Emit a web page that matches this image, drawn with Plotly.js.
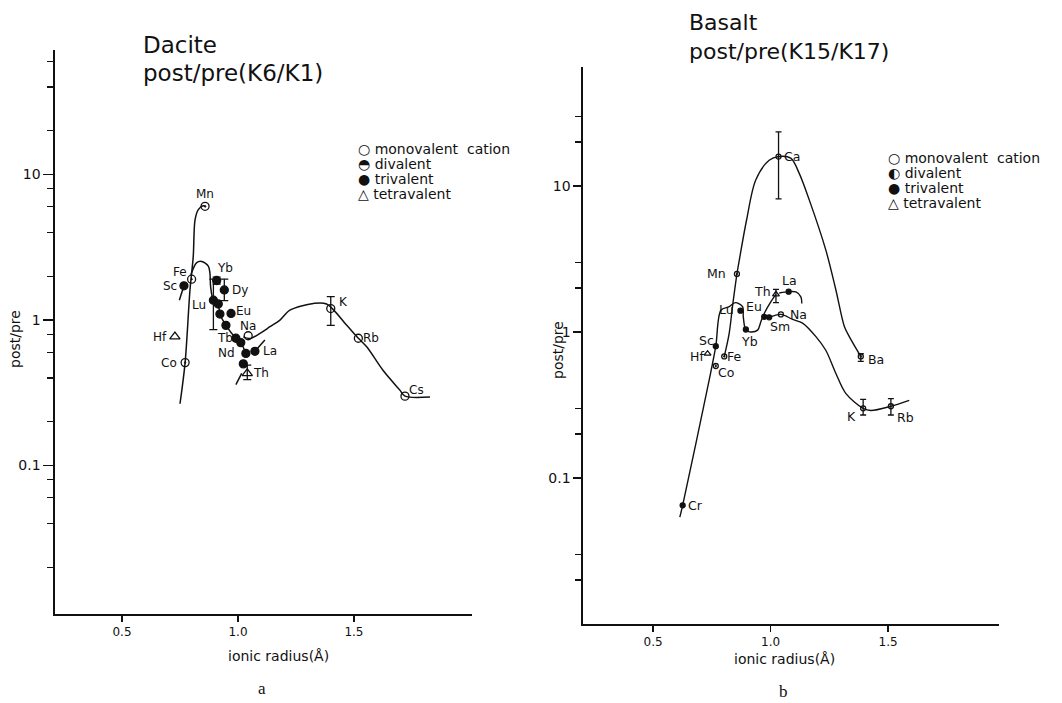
<!DOCTYPE html>
<html><head><meta charset="utf-8">
<script src="https://cdn.plot.ly/plotly-3.0.1.min.js"></script>
<style>html,body{margin:0;padding:0;background:#fff}#chart{width:1062px;height:703px}</style>
</head><body><div id="chart"></div>
<script>
// ================= DATA =================
// Panel a: Dacite post/pre (K6/K1)
const aMonoEl = ['Na','K','Rb','Cs'];
const aMonoX  = [1.044,1.40,1.519,1.72];
const aMonoY  = [0.78,1.20,0.75,0.30];
const aMonoUp = [NaN,0.25,NaN,NaN];
const aMonoDn = [NaN,0.28,NaN,NaN];

const aDiEl = ['Mn','Fe','Co'];
const aDiX  = [0.858,0.800,0.772];
const aDiY  = [6.05,1.91,0.51];

const aTriEl = ['Sc','Yb','Dy','Lu','','','Eu','','Tb','','Nd','La',''];
const aTriX  = [0.767,0.908,0.941,0.894,0.915,0.922,0.970,0.948,0.991,1.012,1.034,1.073,1.023];
const aTriY  = [1.72,1.87,1.61,1.37,1.29,1.10,1.11,0.92,0.75,0.70,0.59,0.61,0.50];
const aTriUp = [NaN,0.10,0.30,0.54,NaN,NaN,NaN,NaN,NaN,NaN,NaN,NaN,NaN];
const aTriDn = [NaN,0.10,0.25,0.51,NaN,NaN,NaN,NaN,NaN,NaN,NaN,NaN,NaN];

const aTetEl = ['Hf','Th'];
const aTetX  = [0.728,1.040];
const aTetY  = [0.77,0.43];
const aTetUp = [NaN,0.06];
const aTetDn = [NaN,0.04];

// hand-drawn trend curves, panel a
const aCurve1X = [0.750,0.772,0.793,0.807,0.815,0.829,0.850,0.862];
const aCurve1Y = [0.266,0.51,1.61,2.73,4.9,5.74,6.1,6.0];
const aCurve2X = [0.797,0.822,0.843,0.872,0.879,0.882,0.894,0.915,0.922,0.948,0.991,1.012,1.034];
const aCurve2Y = [2.05,2.48,2.53,2.35,2.1,1.7,1.37,1.29,1.10,0.92,0.75,0.70,0.59];
const aCurve3X = [1.023,1.052,1.095,1.138,1.181,1.224,1.325,1.382,1.469,1.519,1.555,1.626,1.698,1.72,1.828];
const aCurve3Y = [0.767,0.748,0.81,0.90,1.0,1.17,1.30,1.29,0.92,0.75,0.655,0.45,0.33,0.30,0.296];
const aScTailX = [0.767,0.747], aScTailY = [1.72,1.37];
const aLaTailX = [1.073,1.116], aLaTailY = [0.61,0.73];
const aThTailX = [0.991,1.016], aThTailY = [0.36,0.43];

// Panel b: Basalt post/pre (K15/K17)
const bMonoEl = ['Na','K','Rb'];
const bMonoX  = [1.044,1.394,1.512];
const bMonoY  = [1.32,0.30,0.31];
const bMonoUp = [NaN,0.046,0.04];
const bMonoDn = [NaN,0.03,0.04];

const bDiEl = ['Mn','Ca','Fe','Co','Ba'];
const bDiX  = [0.857,1.034,0.803,0.767,1.384];
const bDiY  = [2.50,15.9,0.68,0.585,0.68];
const bDiUp = [NaN,7.6,NaN,NaN,0.03];
const bDiDn = [NaN,7.75,NaN,NaN,0.05];

const bTriEl = ['Cr','Sc','Lu','Yb','Eu','Sm','La'];
const bTriX  = [0.626,0.767,0.872,0.895,0.973,0.994,1.077];
const bTriY  = [0.065,0.80,1.40,1.04,1.27,1.26,1.89];

const bTetEl = ['Hf','Th'];
const bTetX  = [0.732,1.023];
const bTetY  = [0.71,1.81];
const bTetUp = [NaN,0.15];
const bTetDn = [NaN,0.22];

const bCurveAX = [0.614,0.626,0.739,0.767,0.789,0.824,0.850,0.881,0.884,0.895,0.916,0.945,0.959,0.973,1.001,1.023];
const bCurveAY = [0.054,0.065,0.47,0.80,1.41,1.49,1.59,1.49,1.27,1.03,1.0,1.03,1.18,1.34,1.61,1.81];
const bCurveBX = [0.803,0.824,0.838,0.857,0.867,0.898,0.937,0.994,1.034,1.086,1.122,1.165,1.235,1.278,1.314,1.335,1.384];
const bCurveBY = [0.68,0.98,1.49,2.50,3.11,5.85,11.0,15.0,15.9,15.5,12.2,8.0,3.65,1.94,1.09,0.93,0.68];
const bCurveCX = [0.994,1.044,1.094,1.136,1.193,1.235,1.278,1.320,1.394,1.427,1.512,1.590];
const bCurveCY = [1.26,1.32,1.22,1.15,0.93,0.75,0.52,0.38,0.30,0.29,0.31,0.34];
const bCurveDX = [1.037,1.077,1.108,1.129,1.133];
const bCurveDY = [1.85,1.89,1.88,1.74,1.57];

// axes / text
const xTickVals = [0.5,1.0,1.5];
const xTickText = ['0.5','1.0','1.5'];
const yTickVals = [0.1,1,10];
const yTickText = ['0.1','1','10'];
const yMinorA = [0.02,0.04,0.06,0.08,0.2,0.4,0.6,0.8,2,4,6,8,20,40,60];
const yMinorB = [0.02,0.03,0.2,0.3,2,3,20,30];
const legendLabels = ['monovalent  cation','divalent','trivalent','tetravalent'];
const legendSymA = ['○','◓','●','△'];
const legendSymB = ['○','◐','●','△'];

// ================= STYLE =================
const W = 1062, H = 703;
const INK = '#111';
const FONT = 'DejaVu Sans, Liberation Sans, sans-serif';
const px = v => v / W, py = v => 1 - v / H;

const aMonoShift = [[0,10],[13,7],[13,0],[12,6]];
const aDiShift   = [[0,12],[-12,7],[-16,0]];
const aTriShift  = [[-14,0],[8,13],[16,0],[-14,-5],[0,0],[0,0],[12,2],[0,0],[-11,0],[0,0],[-19,0],[15,0],[0,0]];
const aTetShift  = [[-15,0],[14,0]];
const bMonoShift = [[18,0],[-12,-8],[15,-11]];
const bDiShift   = [[-20,0],[13,0],[10,0],[10,-7],[15,-3]];
const bTriShift  = [[13,0],[-9,6],[-14,1],[4,-12],[-10,10],[11,-9],[1,11]];
const bTetShift  = [[-11,-3],[-13,3]];

function pts(xs, ys, up, dn, sym, size, fill, xa, ya, capw){
  const t = {type:'scatter', mode:'markers', x:xs, y:ys, xaxis:xa, yaxis:ya,
    showlegend:false, hoverinfo:'skip', cliponaxis:false,
    marker:{symbol:sym, size:size, color:fill, line:{color:INK, width:1.3}}};
  if (up) t.error_y = {type:'data', symmetric:false, array:up, arrayminus:dn,
    color:INK, thickness:1.3, width:capw, visible:true};
  return t;
}
function curve(xs, ys, xa, ya, w){
  return {type:'scatter', mode:'lines', x:xs, y:ys, xaxis:xa, yaxis:ya,
    showlegend:false, hoverinfo:'skip',
    line:{color:INK, width:w||1.5, shape:'spline', smoothing:0.9}};
}
function labels(els, xs, ys, shifts, xr, yr, fs){
  const out = [];
  els.forEach((e,i) => { if (!e) return;
    out.push({xref:xr, yref:yr, x:xs[i], y:Math.log10(ys[i]), text:e, showarrow:false, borderpad:0,
      xshift:shifts[i][0], yshift:shifts[i][1], font:{family:FONT, size:fs, color:INK}});
  });
  return out;
}
function txt(x, y, t, size, opts){
  return Object.assign({xref:'paper', yref:'paper', x:px(x), y:py(y), text:t, showarrow:false, borderpad:0,
    xanchor:'center', yanchor:'middle', font:{family:FONT, size:size, color:INK}}, opts||{});
}
function legendAnns(x0, y0, syms, size){
  return legendLabels.map((l,i) => txt(x0, y0 + i*15, syms[i] + ' ' + l, size, {xanchor:'left'}));
}

const traces = [
  curve(aCurve1X, aCurve1Y, 'x', 'y'),
  curve(aCurve2X, aCurve2Y, 'x', 'y'),
  curve(aCurve3X, aCurve3Y, 'x', 'y'),
  curve(aScTailX, aScTailY, 'x', 'y'),
  curve(aLaTailX, aLaTailY, 'x', 'y'),
  curve(aThTailX, aThTailY, 'x', 'y'),
  pts(aMonoX, aMonoY, aMonoUp, aMonoDn, 'circle-open', 8, INK, 'x', 'y', 4),
  pts(aDiX, aDiY, null, null, 'circle-open-dot', 8, INK, 'x', 'y', 4),
  pts(aTriX, aTriY, aTriUp, aTriDn, 'circle', 8, INK, 'x', 'y', 4),
  pts(aTetX, aTetY, aTetUp, aTetDn, 'triangle-up-open', 9, INK, 'x', 'y', 4),

  curve(bCurveAX, bCurveAY, 'x2', 'y2', 1.4),
  curve(bCurveBX, bCurveBY, 'x2', 'y2', 1.4),
  curve(bCurveCX, bCurveCY, 'x2', 'y2', 1.4),
  curve(bCurveDX, bCurveDY, 'x2', 'y2', 1.4),
  pts(bMonoX, bMonoY, bMonoUp, bMonoDn, 'circle-open', 5, INK, 'x2', 'y2', 3),
  pts(bDiX, bDiY, bDiUp, bDiDn, 'circle-open-dot', 5, INK, 'x2', 'y2', 3),
  pts(bTriX, bTriY, null, null, 'circle', 5, INK, 'x2', 'y2', 3),
  pts(bTetX, bTetY, bTetUp, bTetDn, 'triangle-up-open', 6, INK, 'x2', 'y2', 3)
];

function xAxis(domain, range, anchor){
  return {domain, range, anchor, showline:true, linecolor:INK, linewidth:1.6,
    showgrid:false, zeroline:false, ticks:'outside', ticklen:6, tickwidth:1.4, tickcolor:INK,
    tickmode:'array', tickvals:xTickVals, ticktext:xTickText,
    tickfont:{family:FONT, size:12, color:INK}, fixedrange:true};
}
function yAxis(domain, range, anchor, minor, tl){
  return {type:'log', domain, range, anchor, showline:true, linecolor:INK, linewidth:1.6,
    showgrid:false, zeroline:false, ticks:'outside', ticklen:tl, tickwidth:1.4, tickcolor:INK,
    tickmode:'array', tickvals:yTickVals, ticktext:yTickText,
    minor:{tickmode:'array', tickvals:minor, ticks:'outside', ticklen:6, tickwidth:1.2, tickcolor:INK, showgrid:false},
    tickfont:{family:FONT, size:14, color:INK}, fixedrange:true};
}

const annotations = [].concat(
  labels(aMonoEl, aMonoX, aMonoY, aMonoShift, 'x', 'y', 12),
  labels(aDiEl, aDiX, aDiY, aDiShift, 'x', 'y', 12),
  labels(aTriEl, aTriX, aTriY, aTriShift, 'x', 'y', 12),
  labels(aTetEl, aTetX, aTetY, aTetShift, 'x', 'y', 12),
  labels(bMonoEl, bMonoX, bMonoY, bMonoShift, 'x2', 'y2', 12.5),
  labels(bDiEl, bDiX, bDiY, bDiShift, 'x2', 'y2', 12.5),
  labels(bTriEl, bTriX, bTriY, bTriShift, 'x2', 'y2', 12.5),
  labels(bTetEl, bTetX, bTetY, bTetShift, 'x2', 'y2', 12.5),
  [
    txt(142, 45, 'Dacite', 23, {xanchor:'left'}),
    txt(142, 73, 'post/pre(K6/K1)', 23, {xanchor:'left'}),
    txt(688, 22, 'Basalt', 22, {xanchor:'left'}),
    txt(688, 51, 'post/pre(K15/K17)', 22, {xanchor:'left'}),
    txt(15, 339, 'post/pre', 14, {textangle:-90}),
    txt(558, 350, 'post/pre', 14, {textangle:-90}),
    txt(278, 656, 'ionic radius(Å)', 14),
    txt(784, 659, 'ionic radius(Å)', 14),
    txt(262, 688, 'a', 17, {font:{family:'Liberation Serif, serif', size:17, color:INK}}),
    txt(783, 691, 'b', 17, {font:{family:'Liberation Serif, serif', size:17, color:INK}})
  ],
  legendAnns(357, 149, legendSymA, 14),
  legendAnns(887, 158, legendSymB, 14)
);

const layout = {
  width:W, height:H, margin:{l:0, r:0, t:0, b:0},
  paper_bgcolor:'#fff', plot_bgcolor:'rgba(0,0,0,0)', showlegend:false,
  font:{family:FONT, color:INK},
  xaxis: xAxis([55/W, 472/W], [0.211, 2.009], 'y'),
  yaxis: yAxis([1-614/H, 1-50/H], [-2.02, 1.856], 'x', yMinorA, 10),
  xaxis2: xAxis([583/W, 999/W], [0.202, 1.972], 'y2'),
  yaxis2: yAxis([1-624/H, 1-67/H], [-2.0, 1.815], 'x2', yMinorB, 8),
  annotations
};

Plotly.newPlot('chart', traces, layout, {displayModeBar:false, staticPlot:true});
</script>
</body></html>
